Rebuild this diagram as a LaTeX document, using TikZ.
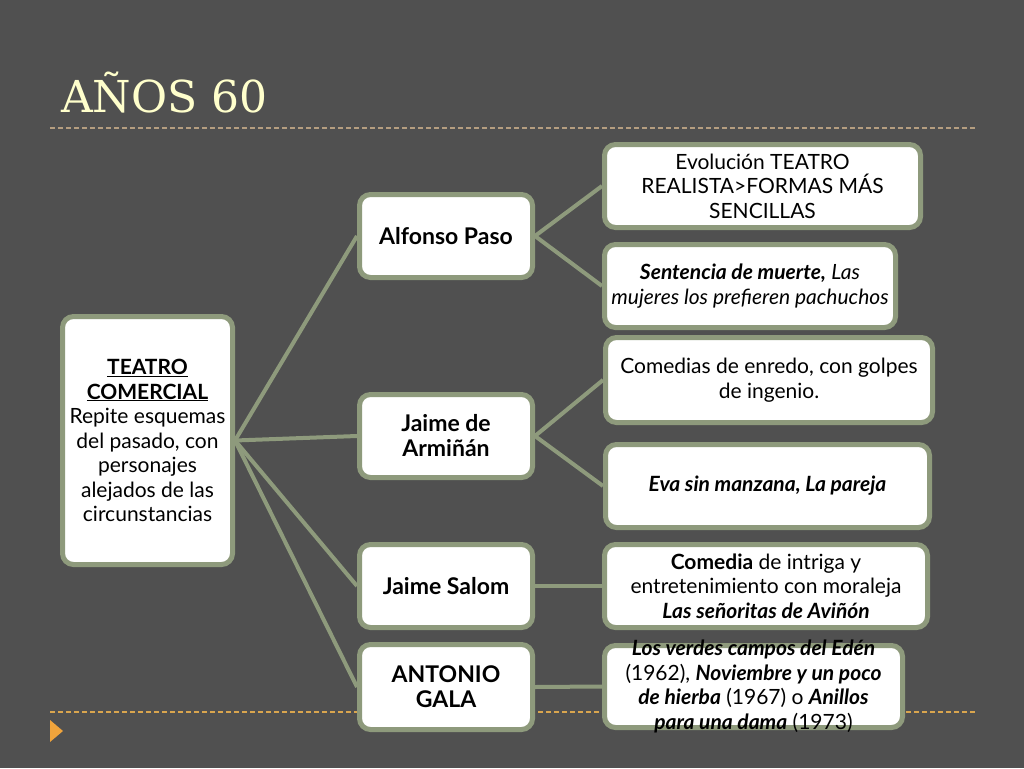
\documentclass[tikz,border=0pt]{standalone}
\usepackage{fontspec}
\setmainfont{Lato}
\newfontfamily\titlefont{DejaVu Serif}

\definecolor{slidebg}{HTML}{505050}
\definecolor{boxedge}{HTML}{8E9A7C}
\definecolor{titlecol}{HTML}{FFFFCC}
\definecolor{rulecol}{HTML}{B59E80}
\definecolor{footcol}{HTML}{D9A54E}
\definecolor{arrowcol}{HTML}{F0A43C}

\begin{document}
\begin{tikzpicture}[x=1pt, y=-1pt,
    box/.style={draw=boxedge, line width=5pt, fill=white, rectangle, rounded corners=11pt,
        align=center, font=\fontsize{21}{24.5}\selectfont, text=black},
    namebox/.style={box, minimum width=173pt, minimum height=83pt, font=\fontsize{23}{25}\selectfont\bfseries},
    link/.style={draw=boxedge, line width=4pt}]

    % Background and slide rules
    \useasboundingbox (0,0) rectangle (1024,768);
    \fill[slidebg] (0,0) rectangle (1024,768);
    \node (title) [anchor=base west, inner sep=0pt, text=titlecol, font=\titlefont\fontsize{44}{48}\selectfont] at (61,112) {AÑOS 60};
    \draw[rulecol, line width=1.5pt, dash pattern=on 5pt off 3pt] (50,128) -- (975,128);
    \draw[footcol, line width=1.5pt, dash pattern=on 5pt off 3pt] (50,712) -- (975,712);
    \fill[arrowcol] (50,720) -- (63,731) -- (50,742) -- cycle;

    % Nodes
    \node (teatro) [box, minimum width=170pt, minimum height=248pt] at (147.5,440.5)
        {\textbf{\underline{TEATRO}}\\\textbf{\underline{COMERCIAL}}\\Repite esquemas\\del pasado, con\\personajes\\alejados de las\\circunstancias};

    \node (paso) [namebox] at (446,236) {Alfonso Paso};
    \node (arminan) [namebox] at (446,436) {Jaime de\\Armiñán};
    \node (salom) [namebox] at (446,586) {Jaime Salom};
    \node (gala) [namebox, minimum height=85pt] at (446,687) {ANTONIO\\GALA};

    \node (evolucion) [box, minimum width=316pt, minimum height=83pt] at (762.5,186)
        {Evolución TEATRO\\REALISTA>FORMAS MÁS\\SENCILLAS};
    \node (sentencia) [box, minimum width=291pt, minimum height=83pt] at (750,286)
        {\textbf{\textit{Sentencia de muerte,}} \textit{Las}\\\textit{mujeres los prefieren pachuchos}};
    \node (comedias) [box, minimum width=327pt, minimum height=85pt] at (769,380)
        {Comedias de enredo, con golpes\\de ingenio.};
    \node (eva) [box, minimum width=324pt, minimum height=83pt] at (767.5,486)
        {\textbf{\textit{Eva sin manzana, La pareja}}};
    \node (intriga) [box, minimum width=323pt, minimum height=83pt] at (766,586)
        {\textbf{Comedia} de intriga y\\entretenimiento con moraleja\\\textbf{\textit{Las señoritas de Aviñón}}};
    \node (verdes) [box, minimum width=298pt, minimum height=82pt, inner ysep=-9pt] at (753.5,686.5)
        {\textbf{\textit{Los verdes campos del Edén}}\\(1962), \textbf{\textit{Noviembre y un poco}}\\\textbf{\textit{de hierba}} (1967) o \textbf{\textit{Anillos}}\\\textbf{\textit{para una dama}} (1973)};

    % Links
    \draw[link] (teatro.east) -- (paso.west);
    \draw[link] (teatro.east) -- (arminan.west);
    \draw[link] (teatro.east) -- (salom.west);
    \draw[link] (teatro.east) -- (gala.west);
    \draw[link] (paso.east) -- (evolucion.west);
    \draw[link] (paso.east) -- (sentencia.west);
    \draw[link] (arminan.east) -- (comedias.west);
    \draw[link] (arminan.east) -- (eva.west);
    \draw[link] (salom.east) -- (intriga.west);
    \draw[link] (gala.east) -- (verdes.west);

\end{tikzpicture}
\end{document}
